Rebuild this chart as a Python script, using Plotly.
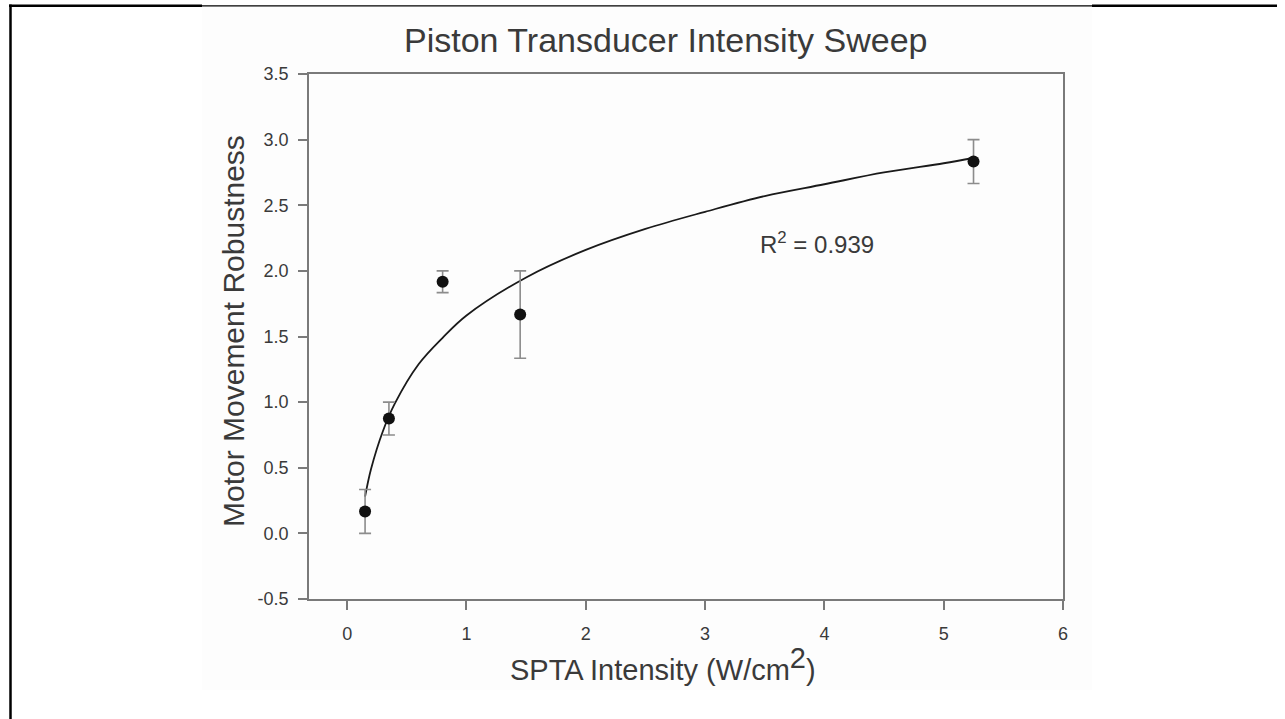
import plotly.graph_objects as go

# measured points with error bars
intensity = [0.15, 0.35, 0.80, 1.45, 5.25]
robustness = [0.167, 0.875, 1.917, 1.667, 2.833]
robustness_err = [0.167, 0.125, 0.083, 0.333, 0.167]

# logarithmic fit curve
fit_x = [0.15, 0.2, 0.3, 0.4, 0.6, 0.8, 1.0, 1.5, 2.0, 2.5, 3.0, 3.5, 4.0, 4.5, 5.0, 5.25]
fit_y = [0.28, 0.49, 0.78, 0.99, 1.29, 1.49, 1.66, 1.95, 2.16, 2.32, 2.45, 2.57, 2.66, 2.75, 2.82, 2.86]

x_ticks = [0, 1, 2, 3, 4, 5, 6]
y_ticks = [-0.5, 0.0, 0.5, 1.0, 1.5, 2.0, 2.5, 3.0, 3.5]
y_tick_text = ["-0.5", "0.0", "0.5", "1.0", "1.5", "2.0", "2.5", "3.0", "3.5"]

W, H = 1285, 719
L, R, T, B = 309, 1063, 74, 599  # plot area in pixels


def px(x):
    return (x - L) / (R - L)


def py(y):
    return (B - y) / (B - T)


FONT = "Liberation Sans, Arial, sans-serif"
TXT = "#3a3a3a"
AX = "#7a7a7a"

fig = go.Figure()

fig.add_trace(go.Scatter(
    x=fit_x, y=fit_y, mode="lines",
    line=dict(color="#1a1a1a", width=1.8, shape="spline"),
    hoverinfo="skip",
))
fig.add_trace(go.Scatter(
    x=intensity, y=robustness, mode="markers",
    marker=dict(color="#111111", size=12),
    error_y=dict(type="data", array=robustness_err, visible=True,
                 color="#8c8c8c", thickness=1.6, width=6),
))

shapes = [
    # faint scanned background
    dict(type="rect", xref="paper", yref="paper", x0=px(202), x1=px(1092), y0=py(690), y1=py(6),
         fillcolor="#fdfdfd", line=dict(width=0), layer="below"),
    # page frame
    dict(type="line", xref="paper", yref="paper", x0=px(10.5), x1=px(10.5), y0=py(4.5), y1=py(719),
         line=dict(color="black", width=2.5)),
    dict(type="line", xref="paper", yref="paper", x0=px(9), x1=px(202), y0=py(5.8), y1=py(5.8),
         line=dict(color="black", width=2.5)),
    dict(type="line", xref="paper", yref="paper", x0=px(202), x1=px(1092), y0=py(5.8), y1=py(5.8),
         line=dict(color="black", width=1.2)),
    dict(type="line", xref="paper", yref="paper", x0=px(1092), x1=px(1277), y0=py(5.8), y1=py(5.8),
         line=dict(color="black", width=2.5)),
]


def label(text, x, y, size, **kw):
    return dict(text=text, x=px(x), y=py(y), xref="paper", yref="paper",
                xanchor="center", yanchor="middle", showarrow=False,
                font=dict(family=FONT, size=size, color=TXT), **kw)


annotations = [
    label("Piston Transducer Intensity Sweep", 666, 40, 34),
    label("Motor Movement Robustness", 233, 331, 30, textangle=-90),
    label('SPTA Intensity (W/cm<sup><span style="font-size:29px">2</span></sup>)', 663, 664, 29),
    label("R<sup>2</sup> = 0.939", 817, 243, 24),
]

fig.update_layout(
    width=W, height=H,
    margin=dict(l=L, r=W - R, t=T, b=H - B, pad=0),
    paper_bgcolor="white", plot_bgcolor="rgba(0,0,0,0)",
    showlegend=False,
    shapes=shapes, annotations=annotations,
    font=dict(family=FONT, color=TXT),
)
fig.update_xaxes(
    range=[-0.32, 6], tickvals=x_ticks, ticks="outside", ticklen=9, tickwidth=1.5, tickcolor=AX,
    ticklabelstandoff=8,
    showline=True, linecolor=AX, linewidth=1.8, mirror=True, showgrid=False, zeroline=False,
    tickfont=dict(family=FONT, size=18, color=TXT),
)
fig.update_yaxes(
    range=[-0.5, 3.5], tickvals=y_ticks, ticktext=y_tick_text, ticks="outside", ticklen=9,
    tickwidth=1.5, tickcolor=AX, ticklabelstandoff=6,
    showline=True, linecolor=AX, linewidth=1.8, mirror=True, showgrid=False, zeroline=False,
    tickfont=dict(family=FONT, size=18, color=TXT),
)

# drop the default page margin so the figure sits at the window origin
fig.write_html("out.html", config={"displayModeBar": False},
               post_script="document.body.style.margin='0';")
